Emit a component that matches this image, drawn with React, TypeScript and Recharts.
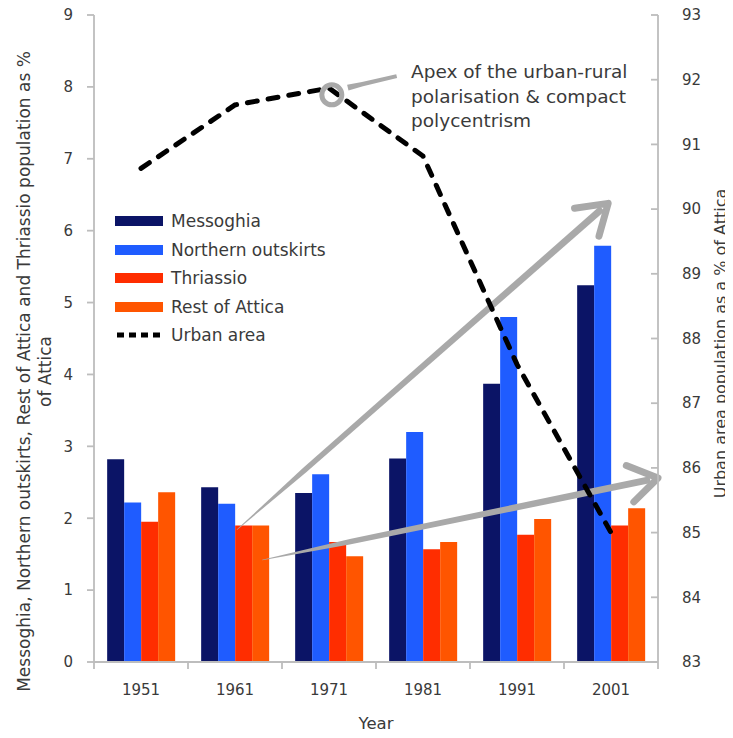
import React from 'react';
import {
  ComposedChart,
  Bar,
  Line,
  XAxis,
  YAxis,
  Legend,
  ReferenceLine,
  ReferenceDot,
} from 'recharts';

// ---------- data ----------
const years = ['1951', '1961', '1971', '1981', '1991', '2001'];
const messoghia = [2.82, 2.43, 2.35, 2.83, 3.87, 5.24];
const northernOutskirts = [2.22, 2.2, 2.61, 3.2, 4.8, 5.79];
const thriassio = [1.95, 1.9, 1.67, 1.57, 1.77, 1.9];
const restOfAttica = [2.36, 1.9, 1.47, 1.67, 1.99, 2.14];
const urbanArea = [90.63, 91.61, 91.87, 90.82, 87.6, 85.0];

const leftTicks = [0, 1, 2, 3, 4, 5, 6, 7, 8, 9];
const rightTicks = [83, 84, 85, 86, 87, 88, 89, 90, 91, 92, 93];

// annotation anchors (x in category-index units: 0 = 1951 centre, 5 = 2001 centre; y in left-axis units)
const arrowGrowth = [{ x: 1.02, y: 1.84 }, { x: 4.97, y: 6.38 }];
const arrowStable = [{ x: 1.29, y: 1.42 }, { x: 5.5, y: 2.56 }];
const apexPointer = [{ x: 2.2, y: 7.99 }, { x: 2.72, y: 8.15 }];
const apexRing = { x: 2.03, y: 7.89 };
const annotationLines = ['Apex of the urban-rural', 'polarisation & compact', 'polycentrism'];

const data = years.map((year, i) => ({
  year,
  idx: i,
  messoghia: messoghia[i],
  northern: northernOutskirts[i],
  thriassio: thriassio[i],
  rest: restOfAttica[i],
  urban: urbanArea[i],
}));

// ---------- layout / style ----------
const CHART_W = 733;
const CHART_H = 738;
const LEFT_AXIS_W = 94;
const RIGHT_AXIS_W = 75;
const X_AXIS_H = 76;
const MARGIN = { top: 15, right: 0, bottom: 0, left: 0 };
const HALF_BAND = (CHART_W - LEFT_AXIS_W - RIGHT_AXIS_W) / years.length / 2;

const FONT = '"DejaVu Sans", Verdana, sans-serif';
const AXIS_COLOR = '#bdbdbd';
const TEXT_COLOR = '#3a3a3a';
const GREY = '#a9a9a9';

const COLORS = {
  messoghia: '#0b1466',
  northern: '#1f5cff',
  thriassio: '#ff2d00',
  rest: '#ff5500',
  urban: '#000000',
};

const seriesOrder = ['messoghia', 'northern', 'thriassio', 'rest', 'urban'];

// ---------- custom pieces ----------
const XTick = (props: any) => {
  const { x, y, payload, index } = props;
  const axisY = y - 18;
  return (
    <g>
      <line x1={x - HALF_BAND} x2={x - HALF_BAND} y1={axisY} y2={axisY + 7} stroke={AXIS_COLOR} strokeWidth={1.8} />
      {index === years.length - 1 && (
        <line x1={x + HALF_BAND} x2={x + HALF_BAND} y1={axisY} y2={axisY + 7} stroke={AXIS_COLOR} strokeWidth={1.8} />
      )}
      <text x={x} y={y + 10} dy="0.35em" textAnchor="middle" fontFamily={FONT} fontSize={15} fill={TEXT_COLOR}>
        {payload.value}
      </text>
    </g>
  );
};

const RightTick = (props: any) => {
  const { x, y, payload } = props;
  const axisX = x - 24;
  return (
    <g>
      <line x1={axisX - 7} x2={axisX} y1={y} y2={y} stroke={AXIS_COLOR} strokeWidth={1.8} />
      <text x={x} y={y} dy="0.35em" textAnchor="start" fontFamily={FONT} fontSize={15} fill={TEXT_COLOR}>
        {payload.value}
      </text>
    </g>
  );
};

const LeftTitle = (props: any) => {
  const vb = props.viewBox || { x: 0, y: 0, width: 0, height: 0 };
  const cy = vb.y + vb.height / 2 + 33;
  const x1 = vb.x + 24;
  const x2 = vb.x + 45;
  return (
    <g fontFamily={FONT} fontSize={17} fill={TEXT_COLOR}>
      <text x={x1} y={cy} textAnchor="middle" dy="0.35em" transform={`rotate(-90 ${x1} ${cy})`}>
        Messoghia, Northern outskirts, Rest of Attica and Thriassio population as %
      </text>
      <text x={x2} y={cy} textAnchor="middle" dy="0.35em" transform={`rotate(-90 ${x2} ${cy})`}>
        of Attica
      </text>
    </g>
  );
};

const RightTitle = (props: any) => {
  const vb = props.viewBox || { x: 0, y: 0, width: 0, height: 0 };
  const cy = vb.y + vb.height / 2 + 5;
  const x = vb.x + 62;
  return (
    <text x={x} y={cy} textAnchor="middle" dy="0.35em" fontFamily={FONT} fontSize={16} fill={TEXT_COLOR}
      transform={`rotate(-90 ${x} ${cy})`}>
      Urban area population as a % of Attica
    </text>
  );
};

const XTitle = (props: any) => {
  const vb = props.viewBox || { x: 0, y: 0, width: 0, height: 0 };
  const x = vb.x + vb.width / 2;
  const y = vb.y + 61;
  return (
    <text x={x} y={y} textAnchor="middle" dy="0.35em" fontFamily={FONT} fontSize={16.5} fill={TEXT_COLOR}>
      Year
    </text>
  );
};

const makeArrowShape = (startW: number, endW: number, head: boolean) => (p: any) => {
  const { x1, y1, x2, y2 } = p;
  if ([x1, y1, x2, y2].some((v) => typeof v !== 'number' || isNaN(v))) return <g />;
  const dx = x2 - x1;
  const dy = y2 - y1;
  const len = Math.hypot(dx, dy) || 1;
  const ux = dx / len;
  const uy = dy / len;
  const nx = -uy;
  const ny = ux;
  const ex = head ? x2 - ux * 8 : x2;
  const ey = head ? y2 - uy * 8 : y2;
  const mx = x1 + ux * Math.min(90, len * 0.3);
  const my = y1 + uy * Math.min(90, len * 0.3);
  const midW = (startW + endW * 3) / 4;
  const pts = [
    [x1 + nx * startW / 2, y1 + ny * startW / 2],
    [mx + nx * midW / 2, my + ny * midW / 2],
    [ex + nx * endW / 2, ey + ny * endW / 2],
    [ex - nx * endW / 2, ey - ny * endW / 2],
    [mx - nx * midW / 2, my - ny * midW / 2],
    [x1 - nx * startW / 2, y1 - ny * startW / 2],
  ]
    .map((q) => q.join(','))
    .join(' ');
  let headEl = null;
  if (head) {
    const back = Math.atan2(-uy, -ux);
    const a = (33 * Math.PI) / 180;
    const L = 34;
    const ax = x2 + Math.cos(back + a) * L;
    const ay = y2 + Math.sin(back + a) * L;
    const bx = x2 + Math.cos(back - a) * L;
    const by = y2 + Math.sin(back - a) * L;
    headEl = (
      <polyline points={`${ax},${ay} ${x2},${y2} ${bx},${by}`} fill="none" stroke={GREY} strokeWidth={7}
        strokeLinejoin="round" strokeLinecap="round" />
    );
  }
  return (
    <g>
      <polygon points={pts} fill={GREY} />
      {headEl}
    </g>
  );
};

const LegendContent = (props: any) => {
  const payload: any[] = props.payload || [];
  const sorted = [...payload].sort(
    (a, b) => seriesOrder.indexOf(a.dataKey) - seriesOrder.indexOf(b.dataKey)
  );
  return (
    <div style={{ fontFamily: FONT, fontSize: 17, color: TEXT_COLOR }}>
      {sorted.map((e) => (
        <div key={e.dataKey} style={{ display: 'flex', alignItems: 'center', height: 28.5, whiteSpace: 'nowrap' }}>
          {e.type === 'line' ? (
            <svg width={52} height={10} style={{ display: 'block' }}>
              <line x1={2} y1={5} x2={50} y2={5} stroke={e.color} strokeWidth={5} strokeDasharray="7 5" />
            </svg>
          ) : (
            <div style={{ width: 48, height: 10, background: e.color, marginRight: 4 }} />
          )}
          <span style={{ marginLeft: 4 }}>{e.value}</span>
        </div>
      ))}
    </div>
  );
};

export default function App() {
  return (
    <div style={{ position: 'relative', width: CHART_W, height: CHART_H, margin: '-8px 0 0 -8px', background: '#fff' }}>
      <ComposedChart
        width={CHART_W}
        height={CHART_H}
        data={data}
        margin={MARGIN}
        barCategoryGap="14%"
        barGap={0}
      >
        <XAxis
          xAxisId="cat"
          dataKey="year"
          height={X_AXIS_H}
          tickLine={false}
          tickSize={0}
          tickMargin={18}
          tick={<XTick />}
          axisLine={{ stroke: AXIS_COLOR, strokeWidth: 1.8 }}
          label={<XTitle />}
          interval={0}
        />
        <XAxis
          xAxisId="pos"
          type="number"
          dataKey="idx"
          domain={[0, years.length - 1]}
          padding={{ left: HALF_BAND, right: HALF_BAND }}
          hide
        />
        <YAxis
          yAxisId="left"
          orientation="left"
          width={LEFT_AXIS_W}
          domain={[0, 9]}
          ticks={leftTicks}
          interval={0}
          tickSize={7}
          tickMargin={14}
          tick={{ fontFamily: FONT, fontSize: 15, fill: TEXT_COLOR }}
          tickLine={{ stroke: AXIS_COLOR, strokeWidth: 1.8 }}
          axisLine={{ stroke: AXIS_COLOR, strokeWidth: 1.8 }}
          label={<LeftTitle />}
        />
        <YAxis
          yAxisId="right"
          orientation="right"
          width={RIGHT_AXIS_W}
          domain={[83, 93]}
          ticks={rightTicks}
          interval={0}
          tickLine={false}
          tickSize={0}
          tickMargin={24}
          tick={<RightTick />}
          axisLine={{ stroke: AXIS_COLOR, strokeWidth: 1.8 }}
          label={<RightTitle />}
        />
        <Legend
          layout="vertical"
          align="center"
          verticalAlign="middle"
          content={<LegendContent />}
          wrapperStyle={{ position: 'absolute', left: 115, top: 207, width: 260 }}
        />
        <Bar xAxisId="cat" yAxisId="left" dataKey="messoghia" name="Messoghia" fill={COLORS.messoghia} isAnimationActive={false} />
        <Bar xAxisId="cat" yAxisId="left" dataKey="northern" name="Northern outskirts" fill={COLORS.northern} isAnimationActive={false} />
        <Bar xAxisId="cat" yAxisId="left" dataKey="thriassio" name="Thriassio" fill={COLORS.thriassio} isAnimationActive={false} />
        <Bar xAxisId="cat" yAxisId="left" dataKey="rest" name="Rest of Attica" fill={COLORS.rest} isAnimationActive={false} />
        <ReferenceLine xAxisId="pos" yAxisId="left" segment={arrowGrowth} ifOverflow="visible" shape={makeArrowShape(0.5, 7, true)} />
        <ReferenceLine xAxisId="pos" yAxisId="left" segment={arrowStable} ifOverflow="visible" shape={makeArrowShape(0.5, 7, true)} />
        <ReferenceLine xAxisId="pos" yAxisId="left" segment={apexPointer} ifOverflow="visible" shape={makeArrowShape(6, 4, false)} />
        <ReferenceDot xAxisId="pos" yAxisId="left" x={apexRing.x} y={apexRing.y} r={10} fill="none" stroke={GREY} strokeWidth={5} ifOverflow="visible" />
        <Line
          xAxisId="cat"
          yAxisId="right"
          type="linear"
          dataKey="urban"
          name="Urban area"
          stroke={COLORS.urban}
          strokeWidth={5}
          strokeDasharray="10 11"
          strokeLinecap="round"
          dot={false}
          activeDot={false}
          legendType="line"
          isAnimationActive={false}
        />
      </ComposedChart>
      <div
        style={{
          position: 'absolute',
          left: 411,
          top: 60,
          fontFamily: FONT,
          fontSize: 18.5,
          lineHeight: '24.5px',
          color: TEXT_COLOR,
          whiteSpace: 'nowrap',
          pointerEvents: 'none',
        }}
      >
        {annotationLines.map((l) => (
          <div key={l}>{l}</div>
        ))}
      </div>
    </div>
  );
}
